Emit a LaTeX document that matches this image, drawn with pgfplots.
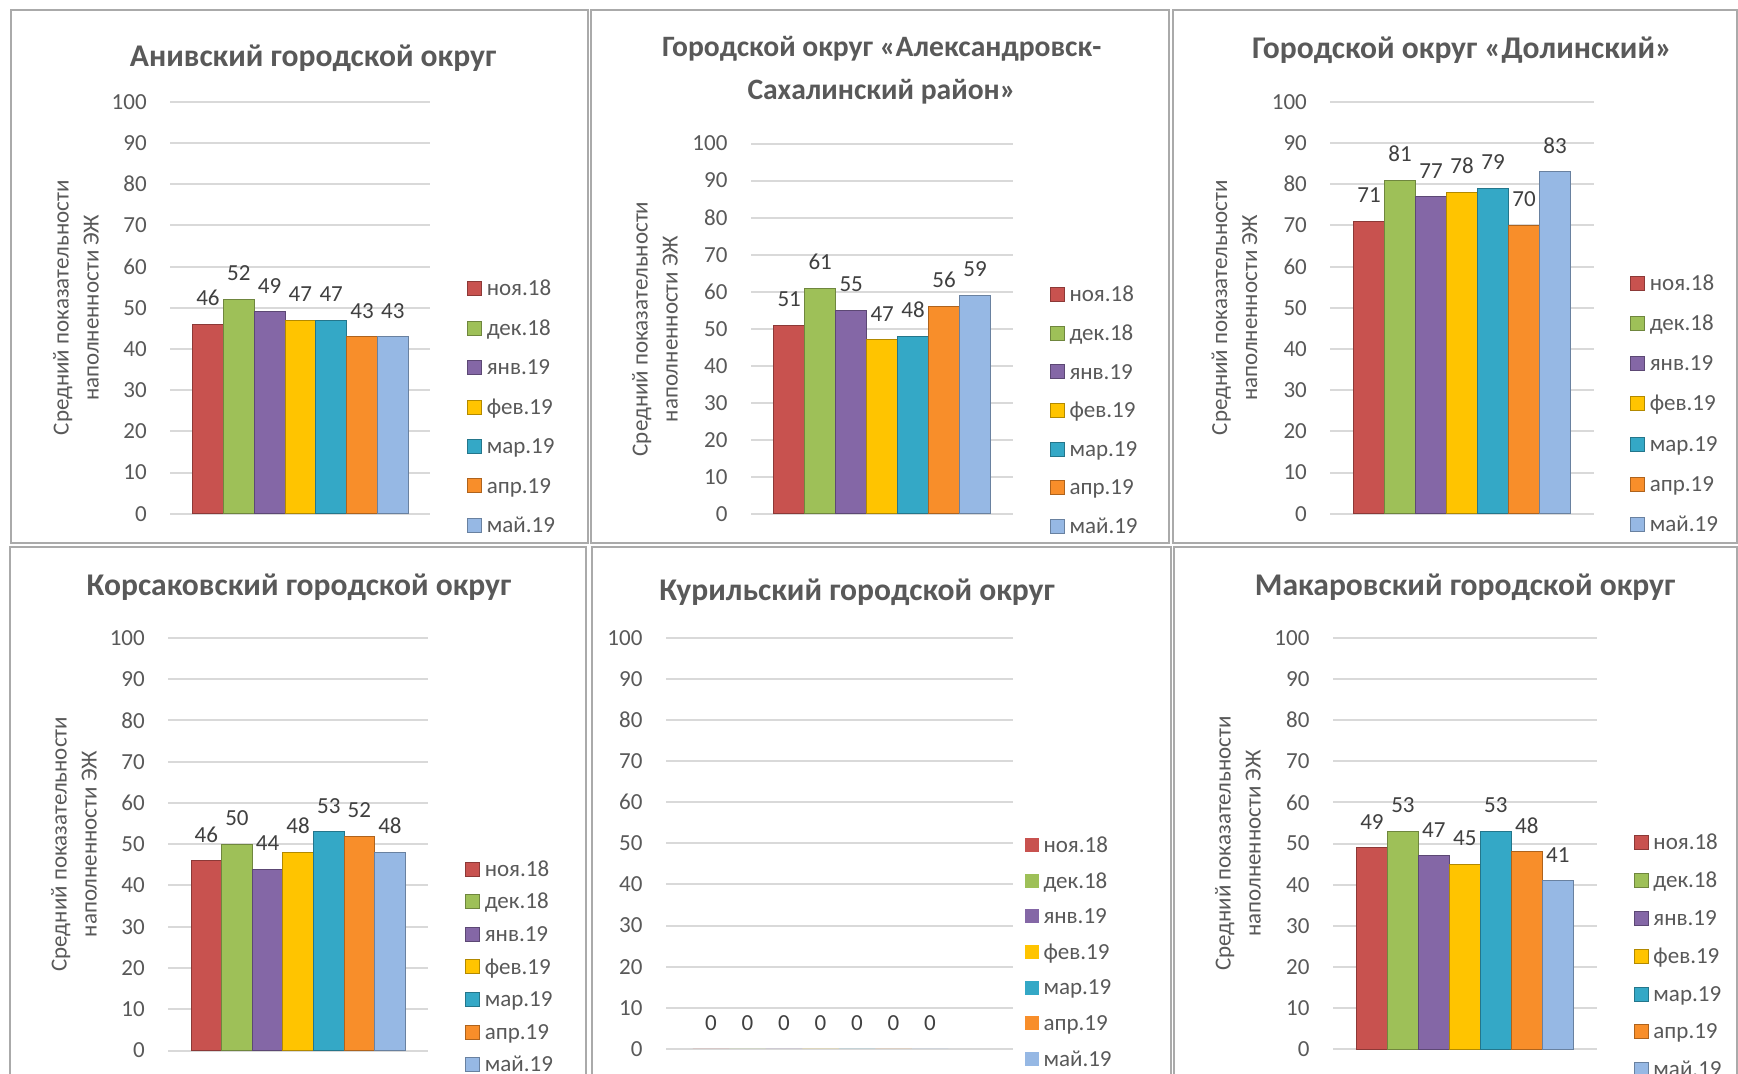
\documentclass[border=0pt]{standalone}
\usepackage{fontspec}
\setmainfont{Carlito}
\usepackage{pgfplots}
\pgfplotsset{compat=1.18}
\definecolor{c1}{RGB}{200,82,79}
\definecolor{c2}{RGB}{158,192,88}
\definecolor{c3}{RGB}{132,103,166}
\definecolor{c4}{RGB}{255,196,0}
\definecolor{c5}{RGB}{52,168,198}
\definecolor{c6}{RGB}{248,142,42}
\definecolor{c7}{RGB}{150,184,228}
\definecolor{gridgray}{RGB}{217,217,217}
\definecolor{labgray}{RGB}{89,89,89}
\definecolor{datagray}{RGB}{64,64,64}
\definecolor{framegray}{RGB}{170,170,170}
\newcommand\fsT{\fontsize{11.5pt}{14pt}\selectfont}
\newcommand\fsY{\fontsize{11.5pt}{15pt}\selectfont}
\newcommand\fsH{\fontsize{15.8pt}{18pt}\selectfont\bfseries}
\newcommand\fsHs{\fontsize{14.8pt}{18pt}\selectfont\bfseries}
\pgfplotsset{
  /pgf/number format/assume math mode=true,
  s1/.style={fill=c1,draw=c1!70!black},
  s2/.style={fill=c2,draw=c2!70!black},
  s3/.style={fill=c3,draw=c3!70!black},
  s4/.style={fill=c4,draw=c4!70!black},
  s5/.style={fill=c5,draw=c5!70!black},
  s6/.style={fill=c6,draw=c6!70!black},
  s7/.style={fill=c7,draw=c7!70!black},
  panel/.style={
    scale only axis,
    anchor=south west,
    ybar=0pt,
    ymin=0, ymax=100,
    ytick={0,10,...,100},
    xtick=\empty,
    enlargelimits=false,
    axis line style={draw=none},
    ymajorgrids,
    major grid style={draw=gridgray, line width=1pt},
    major tick length=0pt,
    tick label style={font=\fsT, text=labgray},
    yticklabel style={inner sep=0pt, xshift=-11.6pt},
    nodes near coords,
    nodes near coords style={font=\fsT, text=datagray, inner sep=0pt, anchor=south, yshift=9pt},
    clip=false,
    legend cell align=left,
    legend image code/.code={\fill[##1] (0pt,-3.9pt) rectangle (7pt,3.1pt);},
    legend style={draw=none, fill=none, inner sep=0pt, outer sep=0pt,
      font=\fsT, text=labgray, anchor=north west, column sep=2.5pt,
      nodes={inner sep=0pt, text height=8pt, text depth=0pt}},
  },
}
\begin{document}
\begin{tikzpicture}
\useasboundingbox (0,0) rectangle (869pt,536.5pt);
\fill[white] (0,0) rectangle (869pt,536.5pt);
% frames
\draw[framegray, line width=1pt] (5.5pt,531.5pt) rectangle (294pt,265pt);
\draw[framegray, line width=1pt] (295.5pt,531.5pt) rectangle (584.5pt,265pt);
\draw[framegray, line width=1pt] (586.5pt,531.5pt) rectangle (868.5pt,265pt);
\draw[framegray, line width=1pt] (5pt,263pt) rectangle (293pt,-2pt);
\draw[framegray, line width=1pt] (296pt,263pt) rectangle (585.5pt,-2pt);
\draw[framegray, line width=1pt] (587pt,263pt) rectangle (868.5pt,-2pt);

% ---------- Panel 1 ----------
\node[font=\fsH, text=labgray] at (156.5pt,507.2pt) {Анивский городской округ};
\node[rotate=90, align=center, font=\fsY, text=labgray] at (38pt,382.6pt) {Средний показательности\\наполненности ЭЖ};
\begin{axis}[panel, at={(85.15pt,279.65pt)}, width=130.1pt, height=205.95pt,
  bar width=15.41pt, xmin=-0.5, xmax=0.5,
  legend style={at={(1.1403,0.568)}, row sep=11.63pt}]
\addplot[s1] coordinates {(0,46)};
\addplot[s2] coordinates {(0,52)};
\addplot[s3] coordinates {(0,49)};
\addplot[s4] coordinates {(0,47)};
\addplot[s5] coordinates {(0,47)};
\addplot[s6] coordinates {(0,43)};
\addplot[s7] coordinates {(0,43)};
\legend{ноя.18,дек.18,янв.19,фев.19,мар.19,апр.19,май.19}
\end{axis}

% ---------- Panel 2 ----------
\node[font=\fsHs, text=labgray] at (440.8pt,512.1pt) {Городской округ «Александровск-};
\node[font=\fsHs, text=labgray] at (440.8pt,490.5pt) {Сахалинский район»};
\node[rotate=90, align=center, font=\fsY, text=labgray] at (327.45pt,372pt) {Средний показательности\\наполненности ЭЖ};
\begin{axis}[panel, at={(375.5pt,279.65pt)}, width=131.15pt, height=185.05pt,
  bar width=15.49pt, xmin=-0.5, xmax=0.5,
  legend style={at={(1.1388,0.6155)}, row sep=11.18pt}]
\addplot[s1] coordinates {(0,51)};
\addplot[s2] coordinates {(0,61)};
\addplot[s3] coordinates {(0,55)};
\addplot[s4] coordinates {(0,47)};
\addplot[s5] coordinates {(0,48)};
\addplot[s6] coordinates {(0,56)};
\addplot[s7] coordinates {(0,59)};
\legend{ноя.18,дек.18,янв.19,фев.19,мар.19,апр.19,май.19}
\end{axis}

% ---------- Panel 3 ----------
\node[font=\fsH, text=labgray] at (731pt,511.3pt) {Городской округ «Долинский»};
\node[rotate=90, align=center, font=\fsY, text=labgray] at (617.15pt,382.6pt) {Средний показательности\\наполненности ЭЖ};
\begin{axis}[panel, at={(665.2pt,279.65pt)}, width=131.7pt, height=205.95pt,
  bar width=15.5pt, xmin=-0.5, xmax=0.5,
  legend style={at={(1.1375,0.5807)}, row sep=11.98pt}]
\addplot[s1] coordinates {(0,71)};
\addplot[s2] coordinates {(0,81)};
\addplot[s3] coordinates {(0,77)};
\addplot[s4] coordinates {(0,78)};
\addplot[s5] coordinates {(0,79)};
\addplot[s6] coordinates {(0,70)};
\addplot[s7] coordinates {(0,83)};
\legend{ноя.18,дек.18,янв.19,фев.19,мар.19,апр.19,май.19}
\end{axis}

% ---------- Panel 4 ----------
\node[font=\fsH, text=labgray] at (149.45pt,242.7pt) {Корсаковский городской округ};
\node[rotate=90, align=center, font=\fsY, text=labgray] at (37pt,114.4pt) {Средний показательности\\наполненности ЭЖ};
\begin{axis}[panel, at={(84.2pt,11.25pt)}, width=129.75pt, height=206.3pt,
  bar width=15.3pt, xmin=-0.5, xmax=0.5,
  legend style={at={(1.143,0.4612)}, row sep=8.2pt}]
\addplot[s1] coordinates {(0,46)};
\addplot[s2] coordinates {(0,50)};
\addplot[s3] coordinates {(0,44)};
\addplot[s4] coordinates {(0,48)};
\addplot[s5] coordinates {(0,53)};
\addplot[s6] coordinates {(0,52)};
\addplot[s7] coordinates {(0,48)};
\legend{ноя.18,дек.18,янв.19,фев.19,мар.19,апр.19,май.19}
\end{axis}

% ---------- Panel 5 ----------
\node[font=\fsH, text=labgray] at (428.5pt,240.15pt) {Курильский городской округ};
\begin{axis}[panel, at={(333pt,12.1pt)}, width=173.25pt, height=205.45pt,
  bar width=18.25pt, xmin=-0.446, xmax=0.554,
  legend style={at={(1.0346,0.5169)}, row sep=9.82pt}]
\addplot[s1,draw=none] coordinates {(0,0)};
\addplot[s2,draw=none] coordinates {(0,0)};
\addplot[s3,draw=none] coordinates {(0,0)};
\addplot[s4,draw=none] coordinates {(0,0)};
\addplot[s5,draw=none] coordinates {(0,0)};
\addplot[s6,draw=none] coordinates {(0,0)};
\addplot[s7,draw=none] coordinates {(0,0)};
\legend{ноя.18,дек.18,янв.19,фев.19,мар.19,апр.19,май.19}
\end{axis}

% ---------- Panel 6 ----------
\node[font=\fsH, text=labgray] at (732.5pt,242.7pt) {Макаровский городской округ};
\node[rotate=90, align=center, font=\fsY, text=labgray] at (618.95pt,114.75pt) {Средний показательности\\наполненности ЭЖ};
\begin{axis}[panel, at={(666.5pt,11.9pt)}, width=131.85pt, height=205.65pt,
  bar width=15.49pt, xmin=-0.5, xmax=0.5,
  legend style={at={(1.140,0.524)}, row sep=10.83pt}]
\addplot[s1] coordinates {(0,49)};
\addplot[s2] coordinates {(0,53)};
\addplot[s3] coordinates {(0,47)};
\addplot[s4] coordinates {(0,45)};
\addplot[s5] coordinates {(0,53)};
\addplot[s6] coordinates {(0,48)};
\addplot[s7] coordinates {(0,41)};
\legend{ноя.18,дек.18,янв.19,фев.19,мар.19,апр.19,май.19}
\end{axis}
\end{tikzpicture}
\end{document}
